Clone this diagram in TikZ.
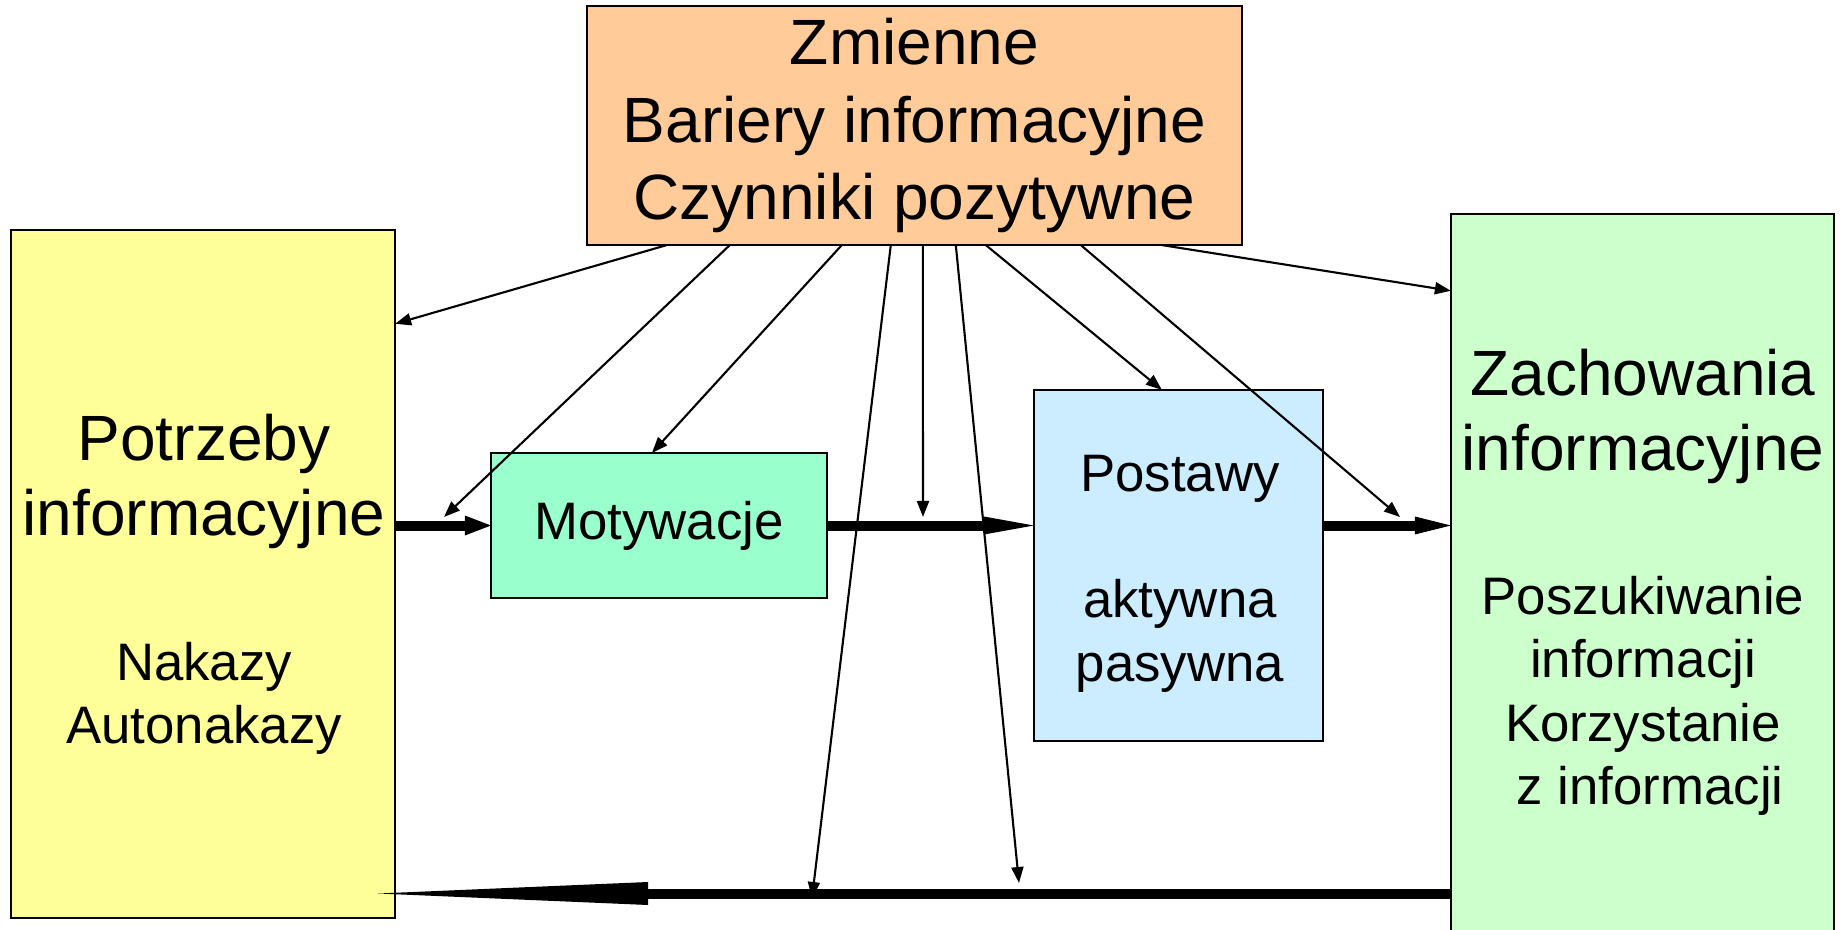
\documentclass[tikz,border=0pt]{standalone}
\usepackage{fontspec}
\setmainfont{Liberation Sans}
\usetikzlibrary{arrows.meta,calc}
\definecolor{corg}{HTML}{FFCC99}
\definecolor{cyel}{HTML}{FFFF99}
\definecolor{cmot}{HTML}{99FFCC}
\definecolor{cpost}{HTML}{CCECFF}
\definecolor{cgrn}{HTML}{CCFFCC}
\begin{document}
\begin{tikzpicture}[x=0.01cm,y=-0.01cm,
  box/.style={draw=black,line width=0.6pt,inner sep=0pt,outer sep=0pt},
  big/.style={font=\fontsize{18.2}{21.3}\selectfont,align=center,inner sep=0pt},
  small/.style={font=\fontsize{15}{18}\selectfont,align=center,inner sep=0pt},
  thinarr/.style={line width=0.6pt,-{Triangle[length=0.16cm,width=0.12cm]}},
  fat/.style={line width=0.1cm}]
\clip (0,0) rectangle (1841,930);
% boxes
\node[box,fill=corg,minimum width=6.55cm,minimum height=2.39cm,big,
  font=\fontsize{18.2}{22}\selectfont] (org) at (914.5,125.5)
  {Zmienne\\Bariery informacyjne\\Czynniki pozytywne};
\node[box,fill=cyel,minimum width=3.84cm,minimum height=6.88cm] (yel) at (203,574) {};
\node[big] (yt1) at (204,481) {Potrzeby\\informacyjne};
\node[small] (yt2) at (204,698.5) {Nakazy\\Autonakazy};
\node[box,fill=cmot,minimum width=3.36cm,minimum height=1.45cm,small] (mot) at (659,525.5) {Motywacje};
\node[box,fill=cpost,minimum width=2.89cm,minimum height=3.51cm] (post) at (1178.5,565.5) {};
\node[small] (pt) at (1180,573.6) {Postawy\\[18pt]aktywna\\pasywna};
\node[box,fill=cgrn,minimum width=3.83cm,minimum height=7.86cm] (grn) at (1642.5,607) {};
\node[big] (gt1) at (1643,416.5) {Zachowania\\informacyjne};
\node[small] (gt2) at (1643,696) {Poszukiwanie\\informacji\\Korzystanie\\~z informacji};
% free ends
\coordinate (m2) at (444,517);
\coordinate (m5) at (923,517);
\coordinate (m8) at (1400,517);
\coordinate (b4) at (812,898);
\coordinate (b6) at (1019,883);
\coordinate (fb) at (378,893.5);
% thin arrows from the top box
\draw[thinarr] ($(org.south west)+(80,0)$) -- ($(yel.north east)+(0,94)$);
\draw[thinarr] ($(org.south west)+(143,0)$) -- (m2);
\draw[thinarr] ($(org.south west)+(255,0)$) -- ($(mot.north west)+(161,0)$);
\draw[thinarr] ($(org.south west)+(304,0)$) -- (b4);
\draw[thinarr] ($(org.south west)+(336,0)$) -- (m5);
\draw[thinarr] ($(org.south west)+(369,0)$) -- (b6);
\draw[thinarr] ($(org.south west)+(399,0)$) -- ($(post.north west)+(128,0)$);
\draw[thinarr] ($(org.south west)+(494,0)$) -- (m8);
\draw[thinarr] ($(org.south west)+(575,0)$) -- ($(grn.north west)+(0,77)$);
% thick arrows
\draw[fat,-{Triangle[length=0.26cm,width=0.2cm,line width=0pt]}] (yel.east |- mot.west) -- (mot.west);
\draw[fat,-{Triangle[length=0.5cm,width=0.18cm,line width=0pt]}] (mot.east) -- (post.west |- mot.east);
\draw[fat,-{Triangle[length=0.36cm,width=0.18cm,line width=0pt]}] (post.east |- mot.east) -- (grn.west |- mot.east);
\draw[fat,-{Triangle[length=2.7cm,width=0.23cm,line width=0pt]}] (grn.west |- fb) -- (fb);
\end{tikzpicture}
\end{document}
